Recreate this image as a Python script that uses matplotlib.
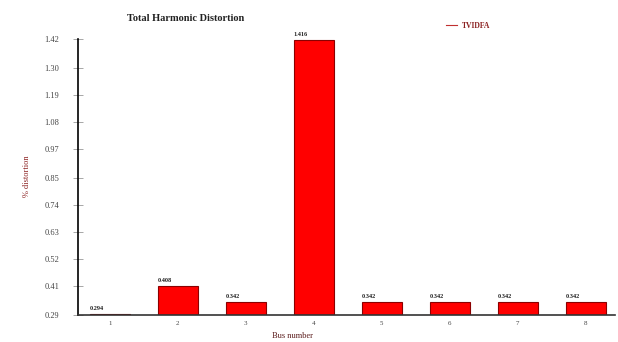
import matplotlib
matplotlib.use('Agg')
import matplotlib.pyplot as plt
import numpy as np

buses = [1, 2, 3, 4, 5, 6, 7, 8]
thd = [0.294, 0.408, 0.342, 1.416, 0.342, 0.342, 0.342, 0.342]
value_labels = ['0.294', '0.408', '0.342', '1.416', '0.342', '0.342', '0.342', '0.342']
y_ticks = [0.29, 0.41, 0.52, 0.63, 0.74, 0.85, 0.97, 1.08, 1.19, 1.30, 1.42]
y_tick_labels = ['0.29', '0.41', '0.52', '0.63', '0.74', '0.85', '0.97', '1.08', '1.19', '1.30', '1.42']

plt.rcParams['font.family'] = ['Liberation Serif', 'DejaVu Serif']

fig = plt.figure(figsize=(6.18, 3.42), dpi=100)
ax = fig.add_axes([0.126, 0.079, 0.869, 0.807])

width = 0.59
base = y_ticks[0]
heights = [v - base for v in thd]
ax.bar(buses, heights, width=width, bottom=base, color='#ff0000',
       edgecolor='#8b0000', linewidth=0.8, label='TVIDFA')

for x, v, s in zip(buses, thd, value_labels):
    ax.text(x - width / 2, v + 0.012, s, fontsize=4.5, fontweight='bold',
            ha='left', va='bottom', color='#222222')

ax.set_xlim(0.53, 8.43)
ax.set_ylim(base, 1.42)
ax.set_xticks(buses)
ax.set_xticklabels([str(b) for b in buses], fontsize=5, color='#444444')
ax.set_yticks(y_ticks)
ax.set_yticklabels(y_tick_labels, fontsize=6, color='#444444')
ax.tick_params(axis='x', length=0, pad=4)
ax.tick_params(axis='y', direction='inout', length=7, width=0.6, color='#999999', pad=10)

for side in ['top', 'right']:
    ax.spines[side].set_visible(False)
ax.spines['left'].set_linewidth(1.2)
ax.spines['bottom'].set_linewidth(1.2)
ax.spines['bottom'].set_color('#333333')

fig.text(293 / 618, 1 - 336 / 342, 'Bus number', fontsize=6, color='#5a1a1a',
         ha='center', va='center')
fig.text(27 / 618, 1 - 176 / 342, '% distortion', fontsize=6, color='#8b2020',
         ha='center', va='center', rotation=90)

fig.text(0.30, 0.945, 'Total Harmonic Distortion', fontsize=7.5, fontweight='bold',
         ha='center', va='center', color='#222222')

fig.legend(handles=[plt.Line2D([0], [0], color='#c03030', lw=0.8)], labels=['TVIDFA'],
           loc='center', bbox_to_anchor=(0.757, 0.925), frameon=False,
           handlelength=1.5, handletextpad=0.6, labelcolor='#8b2020',
           prop={'weight': 'bold', 'size': 5.5})

fig.savefig('out.png', dpi=100)
